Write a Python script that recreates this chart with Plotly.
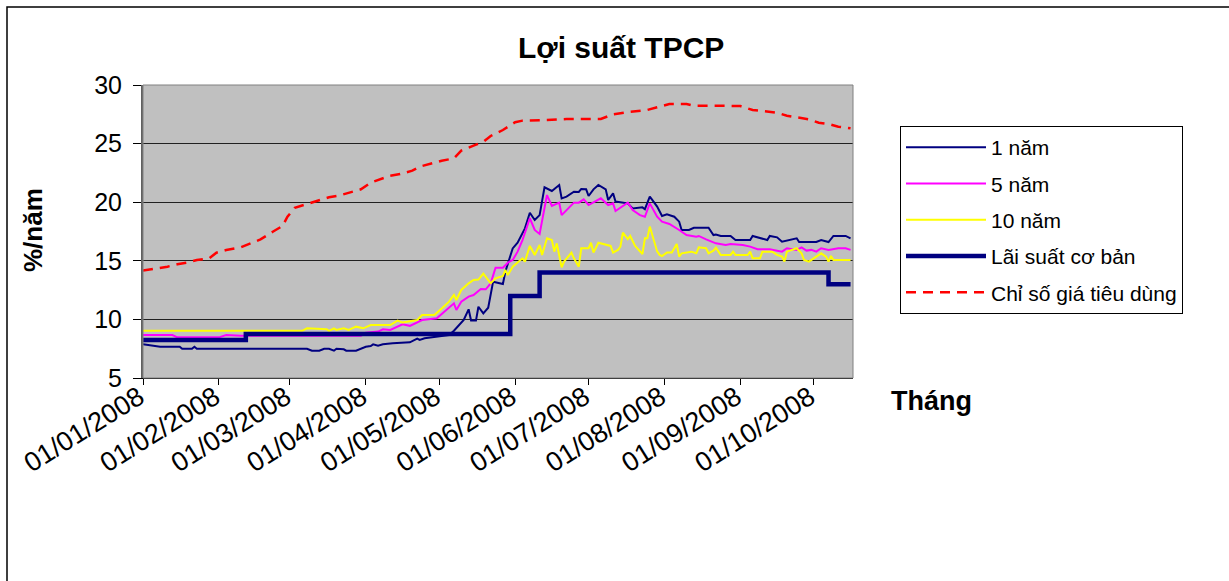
import plotly.graph_objects as go

# ---------------- data ----------------
cpi_dates = ["2008-01-01","2008-01-07","2008-01-11","2008-01-15","2008-01-19","2008-01-23","2008-01-28","2008-01-31",
             "2008-02-04","2008-02-10","2008-02-14","2008-02-18","2008-02-23","2008-02-27","2008-02-29","2008-03-03",
             "2008-03-08","2008-03-12","2008-03-17","2008-03-21","2008-03-26","2008-03-30","2008-04-03","2008-04-06",
             "2008-04-11","2008-04-15","2008-04-20","2008-04-23","2008-04-28","2008-05-02","2008-05-07","2008-05-10",
             "2008-05-15","2008-05-19","2008-05-22","2008-05-27","2008-06-01","2008-06-04","2008-06-14","2008-06-22",
             "2008-07-06","2008-07-11","2008-07-18","2008-07-25","2008-07-29","2008-08-03","2008-08-10","2008-08-13",
             "2008-08-22","2008-09-01","2008-09-06","2008-09-10","2008-09-16","2008-09-20","2008-09-25","2008-09-29",
             "2008-10-03","2008-10-07","2008-10-11","2008-10-16"]
cpi_values = [14.16,14.33,14.5,14.7,14.84,15.07,15.21,15.69,
              15.92,16.15,16.49,16.83,17.48,17.97,18.76,19.53,
              19.85,20.13,20.42,20.56,20.84,21.1,21.67,21.9,
              22.26,22.4,22.69,23.03,23.32,23.54,23.74,24.4,
              24.82,25.15,25.65,26.16,26.82,26.96,27.01,27.1,
              27.1,27.5,27.72,27.87,28.1,28.38,28.38,28.23,
              28.23,28.2,27.87,27.78,27.64,27.38,27.21,27.07,
              26.78,26.67,26.44,26.3]

y1_dates = ["2008-01-01","2008-01-05","2008-01-08","2008-01-16","2008-01-17","2008-01-21","2008-01-22","2008-01-23",
            "2008-02-10","2008-03-08","2008-03-10","2008-03-13","2008-03-15","2008-03-17","2008-03-19","2008-03-20",
            "2008-03-23","2008-03-24","2008-03-28","2008-04-01","2008-04-03","2008-04-04","2008-04-06","2008-04-08",
            "2008-04-12","2008-04-15","2008-04-19","2008-04-22","2008-04-23","2008-04-25","2008-04-28","2008-05-02",
            "2008-05-05","2008-05-07","2008-05-09","2008-05-11","2008-05-13","2008-05-14","2008-05-16","2008-05-17",
            "2008-05-19","2008-05-21","2008-05-23","2008-05-25","2008-05-27","2008-05-28","2008-05-31","2008-06-02",
            "2008-06-04","2008-06-05","2008-06-07","2008-06-09","2008-06-11","2008-06-13","2008-06-16","2008-06-19",
            "2008-06-20","2008-06-22","2008-06-25","2008-06-27","2008-06-28","2008-06-30","2008-07-01","2008-07-03",
            "2008-07-05","2008-07-08","2008-07-09","2008-07-11","2008-07-12","2008-07-17","2008-07-19","2008-07-23",
            "2008-07-24","2008-07-26","2008-07-27","2008-07-29","2008-07-31","2008-08-02","2008-08-05","2008-08-07",
            "2008-08-08","2008-08-11","2008-08-13","2008-08-19","2008-08-21","2008-08-22","2008-08-24","2008-08-28",
            "2008-08-30","2008-09-05","2008-09-06","2008-09-12","2008-09-13","2008-09-16","2008-09-18","2008-09-24",
            "2008-09-25","2008-10-02","2008-10-04","2008-10-07","2008-10-09","2008-10-14","2008-10-16"]
y1_values = [7.87,7.73,7.67,7.67,7.5,7.5,7.67,7.5,
             7.5,7.5,7.33,7.33,7.5,7.5,7.33,7.5,
             7.45,7.33,7.33,7.67,7.73,7.87,7.75,7.87,
             7.96,8.01,8.04,8.36,8.25,8.39,8.47,8.58,
             8.67,9.03,9.46,9.95,10.86,9.9,9.9,11.08,
             10.52,11.0,13.22,13.1,13.02,14.07,16.06,16.54,
             17.34,17.77,19.1,18.48,18.9,21.27,20.96,21.47,
             20.33,20.47,20.9,20.87,21.13,21.1,20.53,21.1,
             21.47,21.1,20.19,20.76,20.05,19.9,19.47,19.56,
             19.4,20.47,20.2,19.62,18.82,18.97,18.76,18.34,
             17.63,17.63,17.82,17.82,17.2,17.25,17.12,17.12,
             16.77,16.77,17.12,16.77,17.12,17.0,16.63,16.92,
             16.6,16.6,16.77,16.6,17.12,17.12,16.92]

y5_dates = ["2008-01-01","2008-01-13","2008-01-15","2008-02-01","2008-02-04","2008-02-10","2008-03-30","2008-04-01",
            "2008-04-06","2008-04-08","2008-04-11","2008-04-14","2008-04-16","2008-04-19","2008-04-22","2008-04-24",
            "2008-04-30","2008-05-02","2008-05-04","2008-05-07","2008-05-08","2008-05-10","2008-05-13","2008-05-15",
            "2008-05-18","2008-05-20","2008-05-22","2008-05-24","2008-05-27","2008-05-29","2008-05-31","2008-06-02",
            "2008-06-04","2008-06-07","2008-06-09","2008-06-11","2008-06-14","2008-06-16","2008-06-19","2008-06-20",
            "2008-06-25","2008-06-27","2008-06-29","2008-07-01","2008-07-06","2008-07-09","2008-07-11","2008-07-12",
            "2008-07-17","2008-07-19","2008-07-22","2008-07-24","2008-07-26","2008-07-28","2008-07-29","2008-07-31",
            "2008-08-03","2008-08-07","2008-08-10","2008-08-14","2008-08-15","2008-08-18","2008-08-22","2008-08-26",
            "2008-08-28","2008-09-02","2008-09-05","2008-09-08","2008-09-13","2008-09-18","2008-09-20","2008-09-24",
            "2008-09-26","2008-09-28","2008-09-30","2008-10-02","2008-10-04","2008-10-07","2008-10-11","2008-10-14",
            "2008-10-16"]
y5_values = [8.67,8.67,8.47,8.47,8.67,8.6,8.6,8.87,
             8.96,9.16,9.1,9.38,9.58,9.45,9.73,9.95,
             10.09,10.46,10.8,11.37,10.8,11.51,11.94,12.08,
             12.6,12.57,13.07,14.41,14.41,14.84,15.07,15.78,
             16.77,18.63,17.63,17.29,20.61,19.68,19.96,18.9,
             19.96,19.96,20.24,19.76,20.33,19.76,19.9,19.25,
             19.96,19.33,18.9,18.76,19.9,19.19,18.76,18.34,
             18.14,17.63,17.2,17.06,17.12,16.83,16.49,16.35,
             16.43,16.35,16.21,15.98,15.98,15.78,16.07,15.93,
             16.15,15.87,15.93,15.78,16.07,15.93,16.07,16.07,
             15.93]

y10_dates = ["2008-01-01","2008-03-06","2008-03-08","2008-03-16","2008-03-17","2008-03-19","2008-03-20","2008-03-23",
             "2008-03-25","2008-03-28","2008-03-31","2008-04-02","2008-04-03","2008-04-11","2008-04-14","2008-04-16",
             "2008-04-18","2008-04-22","2008-04-24","2008-04-29","2008-05-02","2008-05-05","2008-05-07","2008-05-08",
             "2008-05-10","2008-05-13","2008-05-15","2008-05-17","2008-05-19","2008-05-22","2008-05-24","2008-05-27",
             "2008-05-28","2008-05-29","2008-05-31","2008-06-04","2008-06-05","2008-06-07","2008-06-09","2008-06-11",
             "2008-06-12","2008-06-14","2008-06-16","2008-06-17","2008-06-18","2008-06-20","2008-06-21","2008-06-24",
             "2008-06-25","2008-06-27","2008-06-28","2008-07-01","2008-07-02","2008-07-03","2008-07-05","2008-07-08",
             "2008-07-10","2008-07-11","2008-07-13","2008-07-14","2008-07-15","2008-07-17","2008-07-18","2008-07-20",
             "2008-07-23","2008-07-24","2008-07-25","2008-07-26","2008-07-29","2008-07-30","2008-07-31","2008-08-02",
             "2008-08-04","2008-08-06","2008-08-07","2008-08-08","2008-08-12","2008-08-14","2008-08-15","2008-08-18",
             "2008-08-19","2008-08-21","2008-08-22","2008-08-24","2008-08-28","2008-08-29","2008-08-30","2008-09-04",
             "2008-09-05","2008-09-06","2008-09-09","2008-09-10","2008-09-14","2008-09-16","2008-09-18","2008-09-19",
             "2008-09-20","2008-09-24","2008-09-26","2008-09-27","2008-09-29","2008-10-02","2008-10-04","2008-10-06",
             "2008-10-07","2008-10-08","2008-10-09","2008-10-16"]
y10_values = [9.03,9.03,9.24,9.16,9.03,9.24,9.1,9.24,
              9.1,9.38,9.24,9.45,9.52,9.52,9.9,9.73,
              9.81,9.95,10.38,10.38,10.94,11.51,12.08,11.65,
              12.51,13.08,13.36,13.4,13.9,13.08,13.5,13.7,
              14.22,13.78,14.5,15.21,14.93,16.27,15.5,16.35,
              15.5,16.92,16.77,15.78,16.49,14.44,14.93,15.7,
              15.21,14.5,16.07,16.07,16.54,15.7,16.54,16.4,
              16.27,15.7,15.93,16.21,17.4,16.85,17.12,16.27,
              15.58,16.92,16.92,17.92,15.8,15.5,15.41,15.7,
              15.7,16.43,15.36,15.64,15.78,15.64,16.15,16.07,
              15.64,15.87,16.12,15.5,15.5,15.78,15.5,15.5,
              15.78,15.21,15.21,15.78,15.78,15.5,15.36,14.93,
              15.78,16.07,15.64,15.07,14.93,15.36,15.64,15.36,
              14.93,15.41,15.07,15.07]

base_dates = ["2008-01-01","2008-02-12","2008-05-30","2008-06-11","2008-10-07","2008-10-16"]
base_values = [8.25,8.75,12,14,13,13]

tick_dates = ["2008-01-01","2008-02-01","2008-03-01","2008-04-01","2008-05-01",
              "2008-06-01","2008-07-01","2008-08-01","2008-09-01","2008-10-01"]
tick_labels = ["01/01/2008","01/02/2008","01/03/2008","01/04/2008","01/05/2008",
               "01/06/2008","01/07/2008","01/08/2008","01/09/2008","01/10/2008"]

# ---------------- figure ----------------
FONT = "Liberation Sans, Arial, sans-serif"
fig = go.Figure()
fig.add_trace(go.Scatter(x=y1_dates, y=y1_values, mode="lines", name="1 năm",
                         line=dict(color="#000080", width=2), legendgroup="a"))
fig.add_trace(go.Scatter(x=y5_dates, y=y5_values, mode="lines", name="5 năm",
                         line=dict(color="#FF00FF", width=2), legendgroup="b"))
fig.add_trace(go.Scatter(x=y10_dates, y=y10_values, mode="lines", name="10 năm",
                         line=dict(color="#FFFF00", width=2), legendgroup="c"))
fig.add_trace(go.Scatter(x=base_dates, y=base_values, mode="lines", name="Lãi suất cơ bản",
                         line=dict(color="#000080", width=4.5, shape="hv"), legendgroup="d"))
fig.add_trace(go.Scatter(x=cpi_dates, y=cpi_values, mode="lines", name="Chỉ số giá tiêu dùng",
                         line=dict(color="#FF0000", width=2.5, dash="10px,7px"), legendgroup="e"))

L, R, T, B = 143, 853, 85, 378
W, H = 1229, 581
pw, ph = R - L, B - T

def px(x):
    return (x - L) / pw

def py(y):
    return (B - y) / ph

fig.update_layout(
    width=W, height=H,
    margin=dict(l=L, r=W - R, t=T, b=H - B, autoexpand=False),
    paper_bgcolor="white",
    plot_bgcolor="#C0C0C0",
    font=dict(family=FONT, color="black"),
    showlegend=True,
    legend=dict(x=px(900), y=py(126), xanchor="left", yanchor="top",
                bgcolor="white", bordercolor="black", borderwidth=1,
                font=dict(size=21, family=FONT), itemwidth=80,
                traceorder="grouped", tracegroupgap=6,
                itemclick=False),
    xaxis=dict(type="date", range=["2008-01-01", "2008-10-17"],
               tickvals=tick_dates, ticktext=tick_labels, tickangle=-32,
               tickfont=dict(size=27, family=FONT),
               ticks="outside", ticklen=6, tickcolor="black",
               ticklabelstandoff=-14, ticklabelshift=-4,
               showgrid=False, zeroline=False,
               showline=True, linecolor="black", linewidth=1),
    yaxis=dict(range=[5, 30], dtick=5, tickfont=dict(size=25, family=FONT),
               ticks="outside", ticklen=8, tickcolor="black",
               ticklabelstandoff=6,
               showgrid=True, gridcolor="#202020", gridwidth=1,
               zeroline=False, showline=True, linecolor="#606060", linewidth=2),
    shapes=[
        dict(type="rect", xref="paper", yref="paper", x0=0, x1=1, y0=0, y1=1,
             line=dict(color="#808080", width=1), layer="above"),
        dict(type="rect", xref="paper", yref="paper", x0=px(7), x1=px(1260),
             y0=py(700), y1=py(7), line=dict(color="black", width=1.5)),
    ],
    annotations=[
        dict(text="<b>Lợi suất TPCP</b>", x=px(621), y=py(47), xref="paper", yref="paper",
             showarrow=False, xanchor="center", yanchor="middle",
             font=dict(size=30, family=FONT)),
        dict(text="<b>%/năm</b>", x=px(33), y=py(230), xref="paper", yref="paper",
             showarrow=False, xanchor="center", yanchor="middle", textangle=-90,
             font=dict(size=26, family=FONT)),
        dict(text="<b>Tháng</b>", x=px(889), y=py(401), xref="paper", yref="paper",
             showarrow=False, xanchor="left", yanchor="middle",
             font=dict(size=27, family=FONT)),
    ],
)

fig.write_html("out.html", post_script="document.body.style.margin='0px';",
               config={"displayModeBar": False})
